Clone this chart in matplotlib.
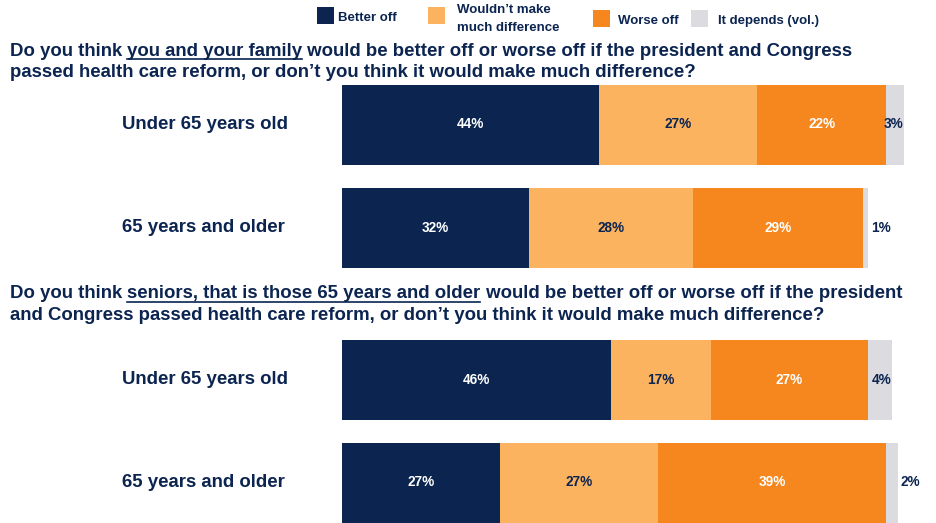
import matplotlib.pyplot as plt
from matplotlib.patches import Rectangle
from matplotlib.lines import Line2D

plt.rcParams['font.family'] = ['Liberation Sans', 'DejaVu Sans']

# data
groups = ['Under 65 years old', '65 years and older', 'Under 65 years old', '65 years and older']
better_off = [44, 32, 46, 27]
no_difference = [27, 28, 17, 27]
worse_off = [22, 29, 27, 39]
it_depends = [3, 1, 4, 2]

series_names = ['Better off', 'Wouldn\u2019t make\nmuch difference', 'Worse off', 'It depends (vol.)']
series = [better_off, no_difference, worse_off, it_depends]

q1_line1 = [('Do you think ', False), ('you and your family', True),
            (' would be better off or worse off if the president and Congress', False)]
q1_line2 = [('passed health care reform, or don\u2019t you think it would make much difference?', False)]
q2_line1 = [('Do you think ', False), ('seniors, that is those 65 years and older', True),
            (' would be better off or worse off if the president', False)]
q2_line2 = [('and Congress passed health care reform, or don\u2019t you think it would make much difference?', False)]

navy = '#0b2450'
colors = [navy, '#fbb360', '#f5871e', '#dcdbe0']
label_colors = ['white', navy, 'white', navy]

W, H = 937, 523
fig = plt.figure(figsize=(W / 100, H / 100), dpi=100)
px_per_pct = 5.85
ax = fig.add_axes([342 / W, 0, (W - 342) / W, 1])
ax.set_xlim(0, (W - 342) / px_per_pct)
ax.set_ylim(H, 0)
ax.axis('off')

bar_y = [124.5, 228, 379.5, 482.5]
left = [0, 0, 0, 0]
for k, vals in enumerate(series):
    ax.barh(bar_y, vals, left=left, height=80, color=colors[k], linewidth=0)
    for i, v in enumerate(vals):
        if k < 3:
            ax.text(left[i] + v / 2, bar_y[i], f'{v}%', ha='center', va='center',
                    color=label_colors[k], fontsize=9.8, fontweight='bold')
        elif v >= 3:
            ax.text(left[i] + v, bar_y[i], f'{v}%', ha='right', va='center',
                    color=label_colors[k], fontsize=9.8, fontweight='bold')
        else:
            ax.text(left[i] + v + 0.5, bar_y[i], f'{v}%', ha='left', va='center',
                    color=label_colors[k], fontsize=9.8, fontweight='bold')
    left = [a + b for a, b in zip(left, vals)]

for i, g in enumerate(groups):
    fig.text(122 / W, 1 - bar_y[i] / H, g, ha='left', va='center',
             fontsize=13.4, fontweight='bold', color=navy)

# question text with underlined parts
renderer = fig.canvas.get_renderer()


def question(x_px, base_px, parts):
    x = x_px / W
    for s, under in parts:
        t = fig.text(x, 1 - base_px / H, s, ha='left', va='baseline',
                     fontsize=13.4, fontweight='bold', color=navy)
        bb = t.get_window_extent(renderer).transformed(fig.transFigure.inverted())
        if under:
            y = 1 - (base_px + 3.5) / H
            fig.add_artist(Line2D([bb.x0, bb.x1 - 1 / W], [y, y], color=navy, linewidth=1.2))
        x = bb.x1


question(10, 55.5, q1_line1)
question(10, 77, q1_line2)
question(10, 298.5, q2_line1)
question(10, 320, q2_line2)

# legend
sq_x = [317, 428, 593, 691]
sq_y = [7, 7, 10, 10]
txt_x = [338, 457, 618, 718]
txt_y = [18, 19, 21, 21]
for k in range(4):
    fig.add_artist(Rectangle((sq_x[k] / W, 1 - (sq_y[k] + 17) / H), 17 / W, 17 / H,
                             transform=fig.transFigure, color=colors[k], linewidth=0))
    fig.text(txt_x[k] / W, 1 - txt_y[k] / H, series_names[k], ha='left', va='center',
             fontsize=9.5, fontweight='bold', color=navy, linespacing=1.7)

fig.savefig('out.png', dpi=100)
